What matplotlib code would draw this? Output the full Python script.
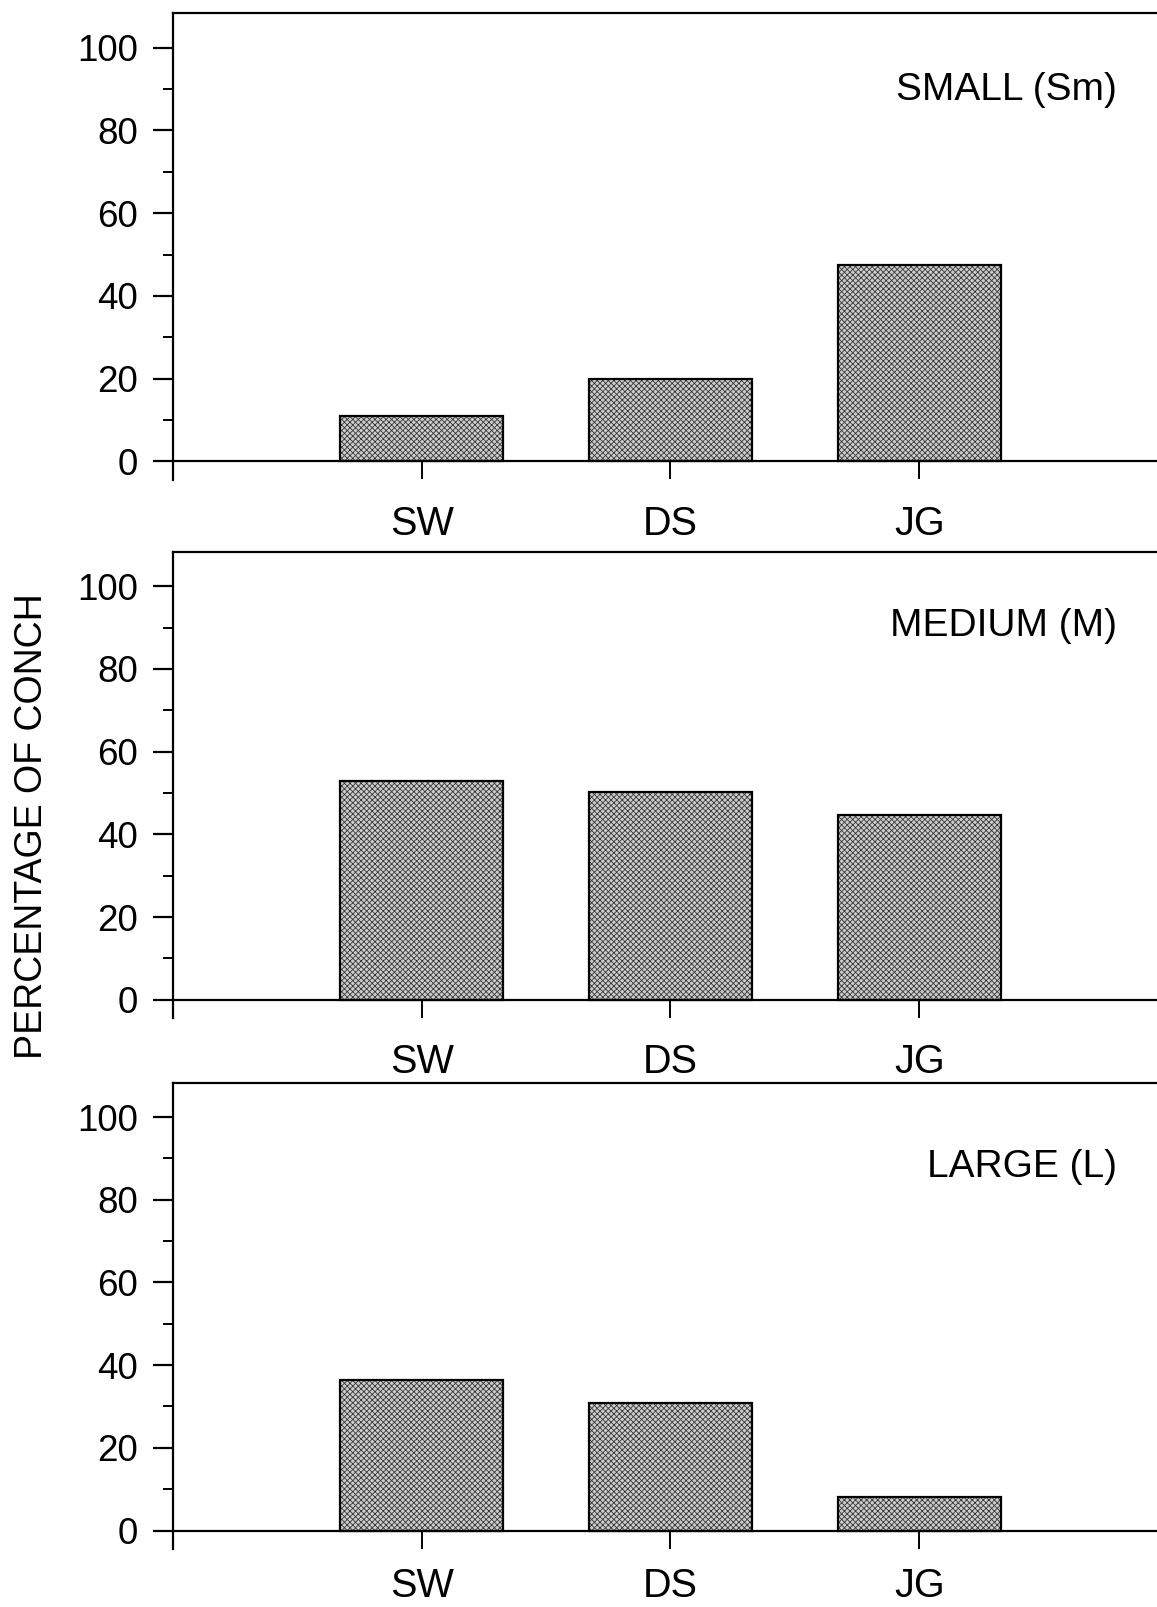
import matplotlib
matplotlib.use("Agg")
import matplotlib.pyplot as plt

plt.rcParams['font.family'] = ['Liberation Sans', 'DejaVu Sans']
plt.rcParams['hatch.linewidth'] = 0.6

# percentage of conch in each size class, by site
sites = ["SW", "DS", "JG"]
size_classes = ["SMALL (Sm)", "MEDIUM (M)", "LARGE (L)"]
small_pct = [11.0, 19.8, 47.4]
medium_pct = [52.9, 50.3, 44.7]
large_pct = [36.5, 30.9, 8.2]

fig = plt.figure(figsize=(11.57, 16.07), dpi=100)

bottoms = [0.7016, 0.3665, 0.0362]
title_y = [0.835, 0.842, 0.82]
xlabel_pad = [18.5, 18.5, 13]
positions = [1, 2, 3]

panels = zip(bottoms, title_y, xlabel_pad, size_classes, [small_pct, medium_pct, large_pct])
for bottom, ty, xpad, title, vals in panels:
    ax = fig.add_axes([0.1495, bottom, 0.86, 0.290])
    # stippled fill, then a crisp outline on top
    ax.bar(positions, vals, width=0.655, color='#cccccc', edgecolor='#383838',
           linewidth=0, hatch='xxxxxx', zorder=2)
    ax.bar(positions, vals, width=0.655, fill=False, edgecolor='black',
           linewidth=1.6, zorder=3)
    ax.set_xlim(0, 4)
    ax.set_ylim(-4.43, 108.3)
    ax.set_yticks([0, 20, 40, 60, 80, 100])
    ax.set_yticks([10, 30, 50, 70, 90], minor=True)
    ax.set_xticks(positions)
    ax.set_xticklabels(sites)

    ax.spines['right'].set_visible(False)
    ax.spines['bottom'].set_position(('data', 0))
    for s in ['left', 'top', 'bottom']:
        ax.spines[s].set_linewidth(1.6)

    ax.tick_params(axis='y', which='major', direction='out', length=14.5, width=1.6,
                   pad=10.5, labelsize=26.5)
    ax.tick_params(axis='y', which='minor', direction='out', length=7, width=1.4)
    ax.tick_params(axis='x', direction='out', length=13, width=1.4, pad=xpad, labelsize=28.5)

    ax.text(0.949, ty, title, transform=ax.transAxes, ha='right', va='center',
            fontsize=28)

fig.text(0.028, 0.486, "PERCENTAGE OF CONCH", rotation=90, ha='center', va='center',
         fontsize=27)

fig.savefig("out.png", dpi=100)
